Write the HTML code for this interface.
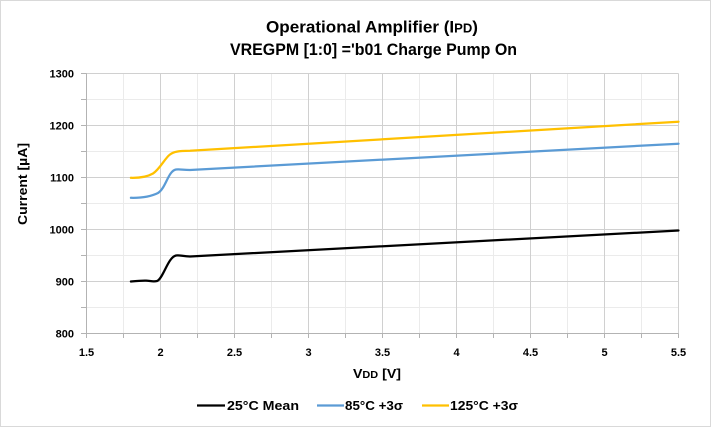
<!DOCTYPE html>
<html>
<head>
<meta charset="utf-8">
<style>
  html, body { margin: 0; padding: 0; background: #fff; }
  svg { display: block; }
  text { font-family: "Liberation Sans", "DejaVu Sans", sans-serif; font-weight: bold; fill: #000; }
</style>
</head>
<body>
<svg width="711" height="427" viewBox="0 0 711 427" xmlns="http://www.w3.org/2000/svg">
  <rect x="0.5" y="0.5" width="710" height="426" fill="#fff" stroke="#d9d9d9" stroke-width="1"/>

  <!-- Titles -->
  <text x="266" y="32.7" font-size="17" textLength="212" lengthAdjust="spacingAndGlyphs">Operational Amplifier (I<tspan font-size="13">PD</tspan>)</text>
  <text x="230" y="55" font-size="17" textLength="287" lengthAdjust="spacingAndGlyphs">VREGPM [1:0] ='b01 Charge Pump On</text>

  <!-- Minor gridlines -->
  <g stroke="#ebebeb" stroke-width="1">
    <line x1="86.5" y1="99.5" x2="678.5" y2="99.5"/>
    <line x1="86.5" y1="151.5" x2="678.5" y2="151.5"/>
    <line x1="86.5" y1="203.5" x2="678.5" y2="203.5"/>
    <line x1="86.5" y1="255.5" x2="678.5" y2="255.5"/>
    <line x1="86.5" y1="307.5" x2="678.5" y2="307.5"/>
    <line x1="123.5" y1="73.5" x2="123.5" y2="333.5"/>
    <line x1="197.5" y1="73.5" x2="197.5" y2="333.5"/>
    <line x1="271.5" y1="73.5" x2="271.5" y2="333.5"/>
    <line x1="345.5" y1="73.5" x2="345.5" y2="333.5"/>
    <line x1="419.5" y1="73.5" x2="419.5" y2="333.5"/>
    <line x1="493.5" y1="73.5" x2="493.5" y2="333.5"/>
    <line x1="567.5" y1="73.5" x2="567.5" y2="333.5"/>
    <line x1="641.5" y1="73.5" x2="641.5" y2="333.5"/>
  </g>
  <!-- Major gridlines -->
  <g stroke="#d0d0d0" stroke-width="1">
    <line x1="86.5" y1="73.5" x2="678.5" y2="73.5"/>
    <line x1="86.5" y1="125.5" x2="678.5" y2="125.5"/>
    <line x1="86.5" y1="177.5" x2="678.5" y2="177.5"/>
    <line x1="86.5" y1="229.5" x2="678.5" y2="229.5"/>
    <line x1="86.5" y1="281.5" x2="678.5" y2="281.5"/>
    <line x1="160.5" y1="73.5" x2="160.5" y2="333.5"/>
    <line x1="234.5" y1="73.5" x2="234.5" y2="333.5"/>
    <line x1="308.5" y1="73.5" x2="308.5" y2="333.5"/>
    <line x1="382.5" y1="73.5" x2="382.5" y2="333.5"/>
    <line x1="456.5" y1="73.5" x2="456.5" y2="333.5"/>
    <line x1="530.5" y1="73.5" x2="530.5" y2="333.5"/>
    <line x1="604.5" y1="73.5" x2="604.5" y2="333.5"/>
    <line x1="678.5" y1="73.5" x2="678.5" y2="333.5"/>
  </g>

  <!-- Axes -->
  <g stroke="#b3b3b3" stroke-width="1">
    <line x1="86.5" y1="73.5" x2="86.5" y2="333.5"/>
    <line x1="86.5" y1="333.5" x2="678.5" y2="333.5"/>
    <!-- y ticks -->
    <line x1="81" y1="73.5" x2="86.5" y2="73.5"/>
    <line x1="81" y1="99.5" x2="86.5" y2="99.5"/>
    <line x1="81" y1="125.5" x2="86.5" y2="125.5"/>
    <line x1="81" y1="151.5" x2="86.5" y2="151.5"/>
    <line x1="81" y1="177.5" x2="86.5" y2="177.5"/>
    <line x1="81" y1="203.5" x2="86.5" y2="203.5"/>
    <line x1="81" y1="229.5" x2="86.5" y2="229.5"/>
    <line x1="81" y1="255.5" x2="86.5" y2="255.5"/>
    <line x1="81" y1="281.5" x2="86.5" y2="281.5"/>
    <line x1="81" y1="307.5" x2="86.5" y2="307.5"/>
    <line x1="81" y1="333.5" x2="86.5" y2="333.5"/>
    <!-- x ticks -->
    <line x1="86.5" y1="333.5" x2="86.5" y2="338"/>
    <line x1="123.5" y1="333.5" x2="123.5" y2="338"/>
    <line x1="160.5" y1="333.5" x2="160.5" y2="338"/>
    <line x1="197.5" y1="333.5" x2="197.5" y2="338"/>
    <line x1="234.5" y1="333.5" x2="234.5" y2="338"/>
    <line x1="271.5" y1="333.5" x2="271.5" y2="338"/>
    <line x1="308.5" y1="333.5" x2="308.5" y2="338"/>
    <line x1="345.5" y1="333.5" x2="345.5" y2="338"/>
    <line x1="382.5" y1="333.5" x2="382.5" y2="338"/>
    <line x1="419.5" y1="333.5" x2="419.5" y2="338"/>
    <line x1="456.5" y1="333.5" x2="456.5" y2="338"/>
    <line x1="493.5" y1="333.5" x2="493.5" y2="338"/>
    <line x1="530.5" y1="333.5" x2="530.5" y2="338"/>
    <line x1="567.5" y1="333.5" x2="567.5" y2="338"/>
    <line x1="604.5" y1="333.5" x2="604.5" y2="338"/>
    <line x1="641.5" y1="333.5" x2="641.5" y2="338"/>
    <line x1="678.5" y1="333.5" x2="678.5" y2="338"/>
  </g>

  <!-- Y tick labels -->
  <g font-size="11" text-anchor="end">
    <text x="74" y="77.5">1300</text>
    <text x="74" y="129.5">1200</text>
    <text x="74" y="181.5">1100</text>
    <text x="74" y="233.5">1000</text>
    <text x="74" y="285.5">900</text>
    <text x="74" y="337.5">800</text>
  </g>
  <!-- X tick labels -->
  <g font-size="11" text-anchor="middle">
    <text x="86.5" y="356">1.5</text>
    <text x="160.5" y="356">2</text>
    <text x="234.5" y="356">2.5</text>
    <text x="308.5" y="356">3</text>
    <text x="382.5" y="356">3.5</text>
    <text x="456.5" y="356">4</text>
    <text x="530.5" y="356">4.5</text>
    <text x="604.5" y="356">5</text>
    <text x="678.5" y="356">5.5</text>
  </g>

  <!-- Axis titles -->
  <text transform="translate(27,225) rotate(-90)" x="0" y="0" font-size="13" textLength="82" lengthAdjust="spacingAndGlyphs">Current [µA]</text>
  <text x="353" y="378" font-size="13" textLength="48" lengthAdjust="spacingAndGlyphs">V<tspan font-size="10">DD</tspan> [V]</text>

  <!-- Series -->
  <g fill="none" stroke-width="2.25" stroke-linecap="round" stroke-linejoin="round">
    <path stroke="#ffc000" d="M130.9,177.8 C140,178 147,177 153,173.5 C160,169 165,158 170,154.5 C174,151.5 178,151 190,150.8 L678.5,121.7"/>
    <path stroke="#5b9bd5" d="M130.9,197.8 C140,198 150,197 158,193 C166,188 168,171 176,169.5 C180,169 183,170 190,170 L678.5,143.7"/>
    <path stroke="#000000" d="M130.9,281.5 C138,280.8 143,280.5 146,280.6 C150,280.7 153,282 157,281 C163,279 168,257 176,255.5 C180,254.8 183,256.5 190,256.5 L678.5,230.5"/>
  </g>

  <!-- Legend -->
  <g stroke-width="2.25">
    <line x1="197" y1="405.5" x2="225" y2="405.5" stroke="#000"/>
    <line x1="317" y1="405.5" x2="344" y2="405.5" stroke="#5b9bd5"/>
    <line x1="422" y1="405.5" x2="449" y2="405.5" stroke="#ffc000"/>
  </g>
  <g font-size="13">
    <text x="227" y="410" textLength="72" lengthAdjust="spacingAndGlyphs">25°C Mean</text>
    <text x="345" y="410" textLength="58" lengthAdjust="spacingAndGlyphs">85°C +3σ</text>
    <text x="450" y="410" textLength="68" lengthAdjust="spacingAndGlyphs">125°C +3σ</text>
  </g>
</svg>
</body>
</html>
